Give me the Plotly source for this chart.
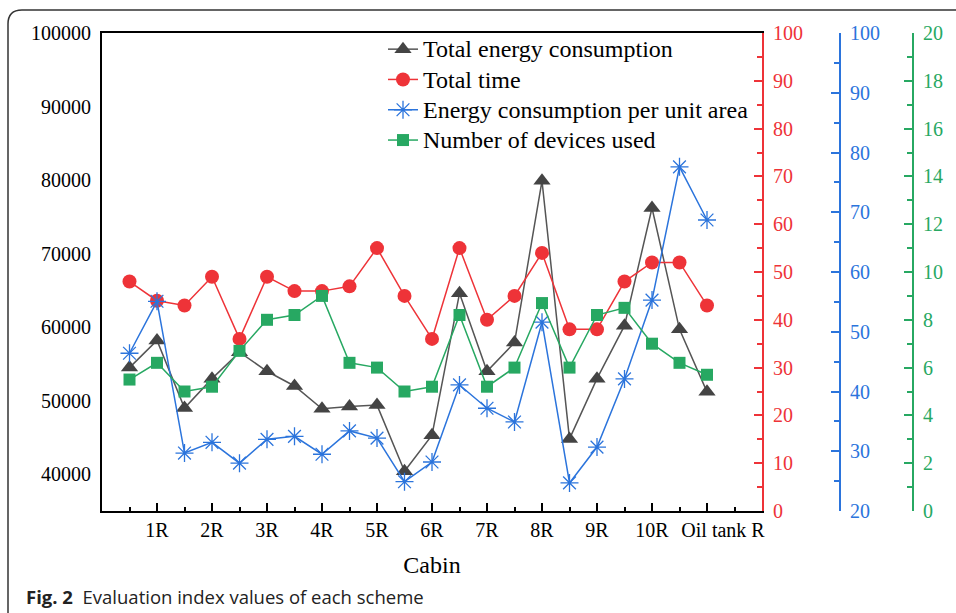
import plotly.graph_objects as go

# ---- data ----
scheme_pos = [0.5, 1.0, 1.5, 2.0, 2.5, 3.0, 3.5, 4.0, 4.5, 5.0, 5.5,
              6.0, 6.5, 7.0, 7.5, 8.0, 8.5, 9.0, 9.5, 10.0, 10.5, 11.0]
cabin_ticks = [1, 2, 3, 4, 5, 6, 7, 8, 9, 10, 11]
cabin_labels = ["1R", "2R", "3R", "4R", "5R", "6R", "7R", "8R", "9R", "10R", "Oil tank R"]

total_energy = [54500, 58200, 49000, 53000, 56600, 54000, 52000, 48900, 49200, 49400, 40400,
                45300, 64600, 54000, 57900, 79900, 44800, 53000, 60200, 76200, 59700, 51200]
total_time = [48, 44, 43, 49, 36, 49, 46, 46, 47, 55, 45,
              36, 55, 40, 45, 54, 38, 38, 48, 52, 52, 43]
energy_per_area = [46.4, 55.1, 29.7, 31.5, 28.0, 32.0, 32.5, 29.5, 33.4, 32.2, 24.9,
                   28.2, 41.1, 37.2, 34.9, 51.6, 24.7, 30.7, 42.1, 55.3, 77.6, 68.7]
devices_used = [5.5, 6.2, 5.0, 5.2, 6.7, 8.0, 8.2, 9.0, 6.2, 6.0, 5.0,
                5.2, 8.2, 5.2, 6.0, 8.7, 6.0, 8.2, 8.5, 7.0, 6.2, 5.7]
series_names = ["Total energy consumption", "Total time",
                "Energy consumption per unit area", "Number of devices used"]

# ---- style ----
SERIF = "Liberation Serif, Times New Roman, serif"
BLACK = "#444444"
RED = "#EE3338"
BLUE = "#2B74DC"
GREEN = "#27A862"

W, H = 956, 613
ML, MR, MT, MB = 102, 10, 33, 102
PW = W - ML - MR
PH = H - MT - MB


def px(xp):
    return (xp - ML) / PW


def py(yp):
    return 1 - (yp - MT) / PH


def legend_name(s):
    return f'<span style="font-size:24px">{s}</span>'


fig = go.Figure()

fig.add_trace(go.Scatter(
    x=scheme_pos, y=total_energy, name=legend_name(series_names[0]),
    xaxis="x", yaxis="y",
    mode="lines+markers", line=dict(color="#555555", width=1.5),
    marker=dict(symbol="triangle-up", size=15, color=BLACK)))
fig.add_trace(go.Scatter(
    x=scheme_pos, y=total_time, name=legend_name(series_names[1]),
    xaxis="x", yaxis="y2",
    mode="lines+markers", line=dict(color=RED, width=1.5),
    marker=dict(symbol="circle", size=14, color=RED)))
fig.add_trace(go.Scatter(
    x=scheme_pos, y=energy_per_area, name=legend_name(series_names[2]),
    xaxis="x", yaxis="y3",
    mode="lines+markers", line=dict(color=BLUE, width=1.5),
    marker=dict(symbol="asterisk-open", size=15, color=BLUE, line=dict(color=BLUE, width=1.3))))
# the green series uses the overlay x axis (same range) that carries the last cabin label
fig.add_trace(go.Scatter(
    x=scheme_pos, y=devices_used, name=legend_name(series_names[3]),
    xaxis="x2", yaxis="y4",
    mode="lines+markers", line=dict(color=GREEN, width=1.5),
    marker=dict(symbol="square", size=12, color=GREEN)))

xdom_end = px(762)

right_common = dict(
    overlaying="y", side="right", showgrid=False, zeroline=False,
    showline=True, linewidth=1.8, ticks="inside", ticklen=8, tickwidth=1.8,
    ticklabelstandoff=5,
)

main_text = cabin_labels[:-1] + [""]

fig.update_layout(
    width=W, height=H, template="none",
    paper_bgcolor="white", plot_bgcolor="white",
    margin=dict(l=ML, r=MR, t=MT, b=MB, autoexpand=False),
    font=dict(family=SERIF, size=20, color="black"),
    showlegend=True,
    legend=dict(x=px(383), y=py(29), xanchor="left", yanchor="top",
                font=dict(family=SERIF, size=21, color="black"),
                bgcolor="rgba(0,0,0,0)", borderwidth=0, tracegroupgap=0,
                traceorder="normal"),
    xaxis=dict(
        domain=[0, xdom_end], range=[0, 12], showgrid=False, zeroline=False,
        showline=True, linecolor="black", linewidth=1.8, mirror=True,
        tickmode="array", tickvals=cabin_ticks, ticktext=main_text, tickangle=0,
        ticks="inside", ticklen=8, tickwidth=1.8, tickcolor="black",
        minor=dict(tickmode="array", tickvals=[v - 0.5 for v in cabin_ticks] + [11.5],
                   ticks="inside", ticklen=4, tickwidth=1.8, tickcolor="black"),
        tickfont=dict(family=SERIF, size=20, color="black"),
        title=dict(text="Cabin", font=dict(family=SERIF, size=24, color="black"), standoff=16),
        automargin=False,
    ),
    xaxis2=dict(
        overlaying="x", anchor="y", side="bottom", domain=[0, xdom_end], range=[0, 12],
        showgrid=False, zeroline=False, showline=False,
        tickmode="array", tickvals=cabin_ticks[-1:], ticktext=cabin_labels[-1:], tickangle=0,
        ticks="", ticklabelshift=16, ticklabelstandoff=5,
        tickfont=dict(family=SERIF, size=20, color="black"), automargin=False,
    ),
    yaxis=dict(
        range=[35000, 100000], tickmode="array",
        tickvals=[40000, 50000, 60000, 70000, 80000, 90000, 100000],
        showgrid=False, zeroline=False, showline=True, linecolor="black", linewidth=1.8,
        ticks="", ticklabelstandoff=5, tickformat="d",
        tickfont=dict(family=SERIF, size=20, color="black"), automargin=False,
    ),
    yaxis2=dict(
        right_common, anchor="x", range=[0, 100], tickmode="linear", tick0=0, dtick=10,
        linecolor=RED, tickcolor=RED, tickfont=dict(family=SERIF, size=20, color=RED),
        minor=dict(tickmode="linear", tick0=0, dtick=5, ticks="inside", ticklen=5,
                   tickwidth=1.8, tickcolor=RED),
    ),
    yaxis3=dict(
        right_common, anchor="free", position=px(840), range=[20, 100],
        tickmode="linear", tick0=20, dtick=10,
        linecolor=BLUE, tickcolor=BLUE, tickfont=dict(family=SERIF, size=20, color=BLUE),
        minor=dict(tickmode="linear", tick0=20, dtick=5, ticks="inside", ticklen=5,
                   tickwidth=1.8, tickcolor=BLUE),
    ),
    yaxis4=dict(
        right_common, anchor="free", position=px(913), range=[0, 20],
        tickmode="linear", tick0=0, dtick=2,
        linecolor=GREEN, tickcolor=GREEN, tickfont=dict(family=SERIF, size=20, color=GREEN),
        minor=dict(tickmode="linear", tick0=0, dtick=1, ticks="inside", ticklen=5,
                   tickwidth=1.8, tickcolor=GREEN),
    ),
)

# figure frame (top + left with rounded corner)
frame_path = (f"M {px(8)},{py(613)} L {px(8)},{py(24)} "
              f"Q {px(8)},{py(10)} {px(22)},{py(10)} L {px(956)},{py(10)}")
fig.add_shape(type="path", xref="paper", yref="paper", path=frame_path,
              line=dict(color="#333333", width=1.5))

# caption
fig.add_annotation(
    xref="paper", yref="paper", x=px(24), y=py(596), xanchor="left", yanchor="middle",
    showarrow=False,
    text="<b>Fig. 2</b>  Evaluation index values of each scheme",
    font=dict(family="Open Sans, Noto Sans, sans-serif", size=18.5, color="#222222"),
)

fig.write_html("out.html")
